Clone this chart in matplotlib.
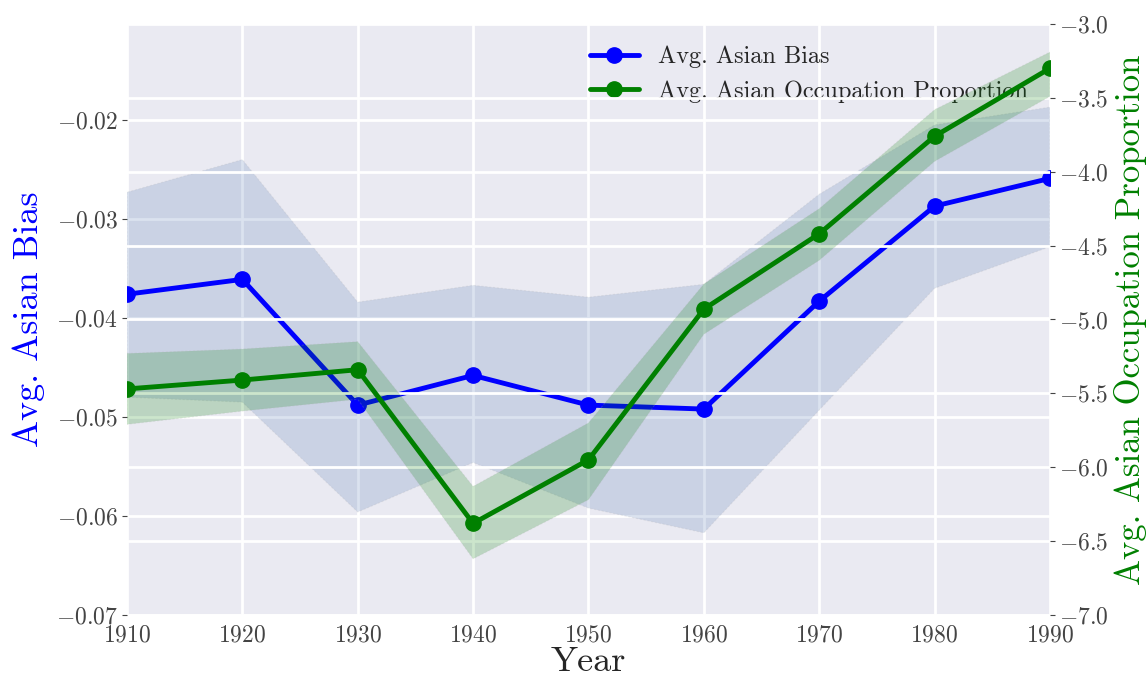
import matplotlib
matplotlib.use("Agg")
import matplotlib.pyplot as plt
import seaborn as sns
from matplotlib.lines import Line2D

sns.set_style("darkgrid")
plt.rcParams["font.family"] = "serif"
plt.rcParams["font.serif"] = ["cmr10", "DejaVu Serif"]
plt.rcParams["mathtext.fontset"] = "cm"
plt.rcParams["axes.formatter.use_mathtext"] = True

years = [1910, 1920, 1930, 1940, 1950, 1960, 1970, 1980, 1990]

# avg. bias (left axis) with its band
bias = [-0.0376, -0.0361, -0.0488, -0.0458, -0.0488, -0.0492, -0.0383, -0.0287, -0.0259]
bias_hi = [-0.0273, -0.0240, -0.0384, -0.0367, -0.0379, -0.0366, -0.0275, -0.0205, -0.0187]
bias_lo = [-0.0480, -0.0485, -0.0596, -0.0546, -0.0592, -0.0617, -0.0493, -0.0370, -0.0328]

# avg. occupation proportion (right axis) with its band
occ = [-5.47, -5.41, -5.34, -6.38, -5.95, -4.93, -4.42, -3.76, -3.30]
occ_hi = [-5.23, -5.20, -5.15, -6.13, -5.70, -4.76, -4.25, -3.58, -3.19]
occ_lo = [-5.71, -5.62, -5.54, -6.62, -6.22, -5.10, -4.60, -3.93, -3.49]

left_ticks = [-0.07, -0.06, -0.05, -0.04, -0.03, -0.02]
right_ticks = [-7.0, -6.5, -6.0, -5.5, -5.0, -4.5, -4.0, -3.5, -3.0]

fig, ax1 = plt.subplots(figsize=(11.47, 6.83), dpi=100)
fig.subplots_adjust(left=0.1107, right=0.9154, top=0.9649, bottom=0.0996)

edge = dict(edgecolor="#b0b0b0", linewidth=0.8, linestyle=(0, (2, 1.5)))

ax1.fill_between(years, bias_lo, bias_hi, facecolor="#4c72b0", alpha=0.2, **edge)
ax1.plot(years, bias, color="blue", lw=3.5, marker="o", ms=11)
ax1.set_xlim(1910, 1990)
ax1.set_ylim(-0.07, -0.0103)
ax1.set_yticks(left_ticks)
ax1.set_xticks(years)
ax1.tick_params(labelsize=17, pad=3, colors="#444444")
ax1.set_xlabel("Year", fontsize=26, color="#262626", labelpad=0)
ax1.set_ylabel("Avg. Asian Bias", fontsize=26, color="blue", labelpad=8)

ax2 = ax1.twinx()
ax2.fill_between(years, occ_lo, occ_hi, facecolor="green", alpha=0.2, **edge)
ax2.plot(years, occ, color="green", lw=3.5, marker="o", ms=11)
ax2.set_ylim(-7.0, -3.0)
ax2.set_yticks(right_ticks)
ax2.tick_params(labelsize=17, pad=3, colors="#444444")
ax2.set_ylabel("Avg. Asian Occupation Proportion", fontsize=25, color="green", labelpad=4)
ax2.grid(True, color="white", lw=2)
ax1.grid(True, color="white", lw=2)
for ax in (ax1, ax2):
    for s in ax.spines.values():
        s.set_visible(False)

handles = [
    Line2D([], [], color="blue", lw=3.5, marker="o", ms=11),
    Line2D([], [], color="green", lw=3.5, marker="o", ms=11),
]
ax1.legend(handles, ["Avg. Asian Bias", "Avg. Asian Occupation Proportion"],
           loc="upper right", fontsize=17.5, frameon=False, numpoints=1)

fig.savefig("out.png", dpi=100)
